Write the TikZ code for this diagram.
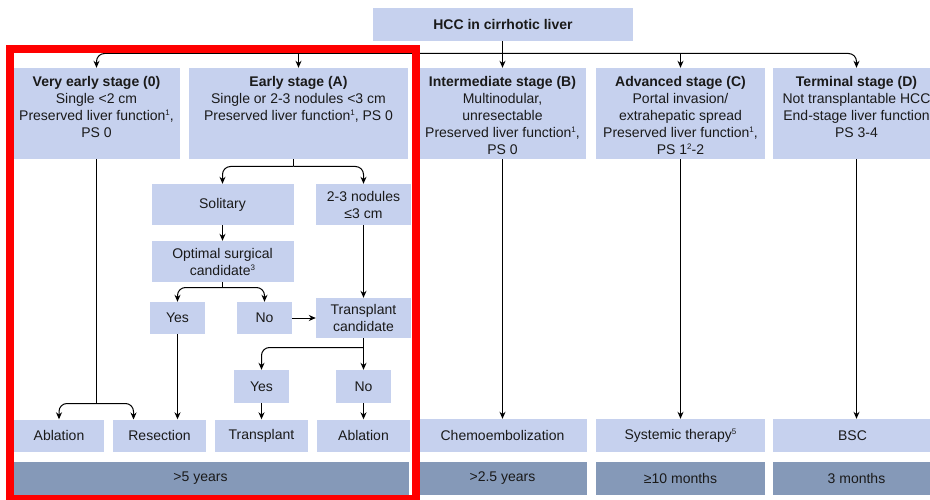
\documentclass[tikz,border=0pt]{standalone}
\usepackage{fontspec}
\setmainfont{Liberation Sans}
\usetikzlibrary{arrows.meta}
\definecolor{boxc}{HTML}{C6D1EE}
\definecolor{durc}{HTML}{8599B8}
\definecolor{txtc}{HTML}{1A1A1A}
\newcommand\sups[1]{\raisebox{0.6ex}{\fontsize{8}{8}\selectfont #1}}
\begin{document}
\begin{tikzpicture}[x=1pt,y=-1pt,
  box/.style={fill=boxc, inner sep=0pt, align=center, text=txtc, font=\fontsize{14}{17}\selectfont},
  dur/.style={fill=durc, inner sep=0pt, align=center, text=txtc, font=\fontsize{14}{17}\selectfont},
  stxt/.style={anchor=north, inner sep=0pt, align=center, text=txtc, font=\fontsize{14}{17}\selectfont},
  conn/.style={line width=1pt, draw=black},
  arr/.style={conn, -{Stealth[length=7pt,width=6pt]}},
  rc/.style={rounded corners=8pt}]
\useasboundingbox (0,0) rectangle (930,500);
\clip (0,0) rectangle (930,500);

% top
\node[box, minimum width=260, minimum height=33] (hcc) at (503,24.5) {\textbf{HCC in cirrhotic liver}};

% stage boxes
\node[box, minimum width=166, minimum height=91] (veryearly) at (96.5,113.5) {};
\node[box, minimum width=219, minimum height=91] (early) at (298.5,113.5) {};
\node[box, minimum width=167, minimum height=91] (intermediate) at (502.5,113.5) {};
\node[box, minimum width=169, minimum height=91] (advanced) at (680.5,113.5) {};
\node[box, minimum width=168, minimum height=91] (terminal) at (856.5,113.5) {};

\node[stxt] (veryearlyT) at (96.5,76) {\textbf{Very early stage (0)}\\Single <2 cm\\Preserved liver function\sups{1},\\PS 0};
\node[stxt] (earlyT) at (298.5,76) {\textbf{Early stage (A)}\\Single or 2-3 nodules <3 cm\\Preserved liver function\sups{1}, PS 0};
\node[stxt] (intermediateT) at (502.5,76) {\textbf{Intermediate stage (B)}\\Multinodular,\\unresectable\\Preserved liver function\sups{1},\\PS 0};
\node[stxt] (advancedT) at (680.5,76) {\textbf{Advanced stage (C)}\\Portal invasion/\\extrahepatic spread\\Preserved liver function\sups{1},\\PS 1\sups{2}-2};
\node[stxt] (terminalT) at (856.5,76) {\textbf{Terminal stage (D)}\\Not transplantable HCC\\End-stage liver function\\PS 3-4};

% early subtree
\node[box, minimum width=142, minimum height=41] (solitary) at (222.5,204.5) {Solitary};
\node[box, minimum width=95, minimum height=41] (nodules) at (363.5,204.5) {2-3 nodules\\≤3 cm};
\node[box, minimum width=142, minimum height=41] (optimal) at (222.5,261.5) {Optimal surgical\\candidate\sups{3}};
\node[box, minimum width=55, minimum height=32] (yes1) at (177.5,318) {Yes};
\node[box, minimum width=55, minimum height=32] (no1) at (264.5,318) {No};
\node[box, minimum width=95, minimum height=40] (tc) at (363.5,318) {Transplant\\candidate};
\node[box, minimum width=55, minimum height=33] (yes2) at (261.5,386.5) {Yes};
\node[box, minimum width=55, minimum height=33] (no2) at (363.5,386.5) {No};

% treatments
\node[box, minimum width=90, minimum height=32] (ablation1) at (59,435.5) {Ablation};
\node[box, minimum width=93, minimum height=32] (resection) at (159.5,435.5) {Resection};
\node[box, minimum width=93, minimum height=32] (transplant) at (261.5,435.5) {Transplant};
\node[box, minimum width=93, minimum height=32] (ablation2) at (363.5,435.5) {Ablation};
\node[box, minimum width=169, minimum height=33] (chemo) at (502.5,435.5) {Chemoembolization};
\node[box, minimum width=169, minimum height=33] (systemic) at (680.5,435.5) {Systemic therapy\sups{5}};
\node[box, minimum width=168, minimum height=33] (bsc) at (856.5,435.5) {BSC\hspace{8pt}};

% durations
\node[dur, minimum width=395, minimum height=33] (dur1) at (211.5,478.5) {>5 years\hspace{22pt}};
\node[dur, minimum width=169, minimum height=33] (dur2) at (502.5,478.5) {>2.5 years};
\node[dur, minimum width=169, minimum height=33] (dur3) at (680.5,478.5) {≥10 months};
\node[dur, minimum width=168, minimum height=33] (dur4) at (856.5,478.5) {3 months};

% connectors
\coordinate (bus) at (502.5,53.5);
\draw[arr] (hcc.south -| intermediate.north) -- (intermediate.north);
\draw[arr, rc] (bus) -| (veryearly.north);
\draw[arr, rc] (bus) -| (terminal.north);
\draw[arr] (bus -| early.north) -- (early.north);
\draw[arr] (bus -| advanced.north) -- (advanced.north);

\coordinate (ej) at (293.5,166.5);
\draw[conn] (early.south -| ej) -- (ej);
\draw[arr, rc] (ej) -| (solitary.north);
\draw[arr, rc] (ej) -| (nodules.north);
\draw[arr] (solitary.south) -- (optimal.north);
\coordinate (oj) at (222.5,287.5);
\draw[conn] (optimal.south) -- (oj);
\draw[arr, rc] (oj) -| (yes1.north);
\draw[arr, rc] (oj) -| (no1.north);
\draw[arr] (no1.east) -- (tc.west);
\draw[arr] (nodules.south) -- (tc.north);
\coordinate (tj) at (363.5,347.5);
\draw[arr] (tc.south) -- (no2.north);
\draw[arr, rc] (tj) -| (yes2.north);
\draw[arr] (yes2.south) -- (transplant.north);
\draw[arr] (no2.south) -- (ablation2.north);
\draw[arr] (yes1.south) -- (yes1.south |- resection.north);

\coordinate (vj) at (96.5,403.5);
\coordinate (resL) at (133.5,419.5);
\draw[conn] (veryearly.south) -- (vj);
\draw[arr, rc] (vj) -| (ablation1.north);
\draw[arr, rc] (vj) -| (resL);

\draw[arr] (intermediate.south) -- (chemo.north);
\draw[arr] (advanced.south) -- (systemic.north);
\draw[arr] (terminal.south) -- (bsc.north);

% red frame
\draw[red, line width=8pt] (10,48.8) rectangle (415.5,499);
\end{tikzpicture}
\end{document}
